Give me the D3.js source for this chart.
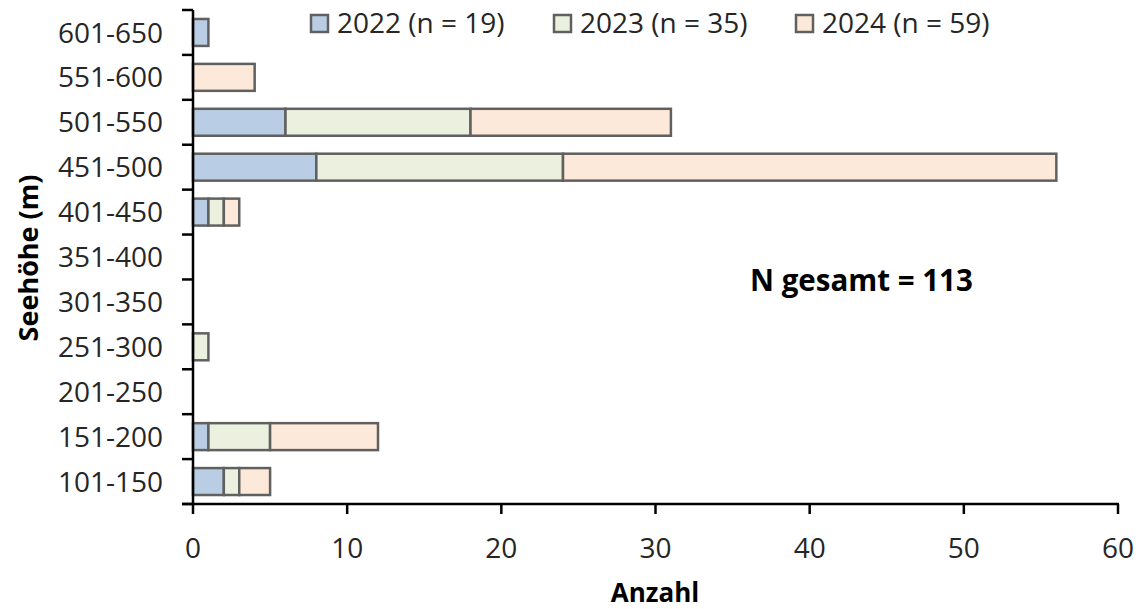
<!DOCTYPE html>
<html><head><meta charset="utf-8">
<script src="https://cdn.jsdelivr.net/npm/d3@7"></script>
<style>html,body{margin:0;padding:0;background:#fff;} svg{display:block;}</style>
</head><body>
<svg id="c" width="1143" height="609"></svg>
<script>
const categories = ["601-650","551-600","501-550","451-500","401-450","351-400","301-350","251-300","201-250","151-200","101-150"];
const series = ["2022 (n = 19)","2023 (n = 35)","2024 (n = 59)"];
const v2022 = [1,0,6,8,1,0,0,0,0,1,2];
const v2023 = [0,0,12,16,1,0,0,1,0,4,1];
const v2024 = [0,4,13,32,1,0,0,0,0,7,2];
const xTicks = [0,10,20,30,40,50,60];
const colors = ["#B9CDE5","#EBF1DE","#FDE9D9"];
const font = "'Open Sans', Lato, sans-serif";

const svg = d3.select("#c");
const x = d3.scaleLinear().domain([0,60]).range([193,1118]);
const y = d3.scaleBand().domain(categories).range([10,504]).paddingInner(0.4).paddingOuter(0.2);

const rows = categories.map((c,i)=>({cat:c, "0":v2022[i], "1":v2023[i], "2":v2024[i]}));
const stacked = d3.stack().keys(["0","1","2"])(rows);

stacked.forEach((layer,si)=>{
  svg.append("g").selectAll("rect").data(layer.filter(d=>d[1]-d[0]>0)).join("rect")
    .attr("x",d=>x(d[0])).attr("width",d=>x(d[1])-x(d[0]))
    .attr("y",d=>y(d.data.cat)).attr("height",y.bandwidth())
    .attr("fill",colors[si]).attr("stroke","#606060").attr("stroke-width",2.5);
});

// Y axis
const yAxisG = svg.append("g");
yAxisG.append("line").attr("x1",193).attr("x2",193).attr("y1",10).attr("y2",505).attr("stroke","#000").attr("stroke-width",2.5);
const step = y.step();
const bounds = d3.range(categories.length+1).map(i=>10+i*step);
yAxisG.selectAll("line.t").data(bounds).join("line").attr("class","t")
  .attr("x1",182).attr("x2",193).attr("y1",d=>d).attr("y2",d=>d).attr("stroke","#000").attr("stroke-width",2.5);
yAxisG.selectAll("text").data(categories).join("text")
  .attr("x",163).attr("y",d=>y(d)+y.bandwidth()/2).attr("dy","0.36em")
  .attr("text-anchor","end").attr("font-family",font).attr("font-size",28).attr("fill","#262626").text(d=>d);

// X axis
const xAxisG = svg.append("g");
xAxisG.append("line").attr("x1",182).attr("x2",1119).attr("y1",504).attr("y2",504).attr("stroke","#000").attr("stroke-width",2.5);
xAxisG.selectAll("line.t").data(xTicks).join("line").attr("class","t")
  .attr("x1",d=>x(d)).attr("x2",d=>x(d)).attr("y1",504).attr("y2",514).attr("stroke","#000").attr("stroke-width",2.5);
xAxisG.selectAll("text").data(xTicks).join("text")
  .attr("x",d=>x(d)).attr("y",558).attr("text-anchor","middle")
  .attr("font-family",font).attr("font-size",28).attr("fill","#262626").text(d=>d);

// Axis titles
svg.append("text").attr("x",655).attr("y",602).attr("text-anchor","middle")
  .attr("font-family",font).attr("font-weight","bold").attr("font-size",26).attr("fill","#000").text("Anzahl");
svg.append("text").attr("transform","translate(38,258) rotate(-90)").attr("text-anchor","middle")
  .attr("font-family",font).attr("font-weight","bold").attr("font-size",27).attr("fill","#000").text("Seehöhe (m)");

// Legend
const legX = [310,553,795];
series.forEach((s,i)=>{
  svg.append("rect").attr("x",legX[i]+1).attr("y",15).attr("width",17).attr("height",17)
    .attr("fill",colors[i]).attr("stroke","#606060").attr("stroke-width",2.5);
  svg.append("text").attr("x",legX[i]+27).attr("y",33).attr("font-family",font).attr("font-size",28)
    .attr("fill","#262626").text(s);
});

// Annotation
svg.append("text").attr("x",750).attr("y",291).attr("font-family",font).attr("font-weight","bold")
  .attr("font-size",29.5).attr("fill","#000").text("N gesamt = 113");
</script>
</body></html>
